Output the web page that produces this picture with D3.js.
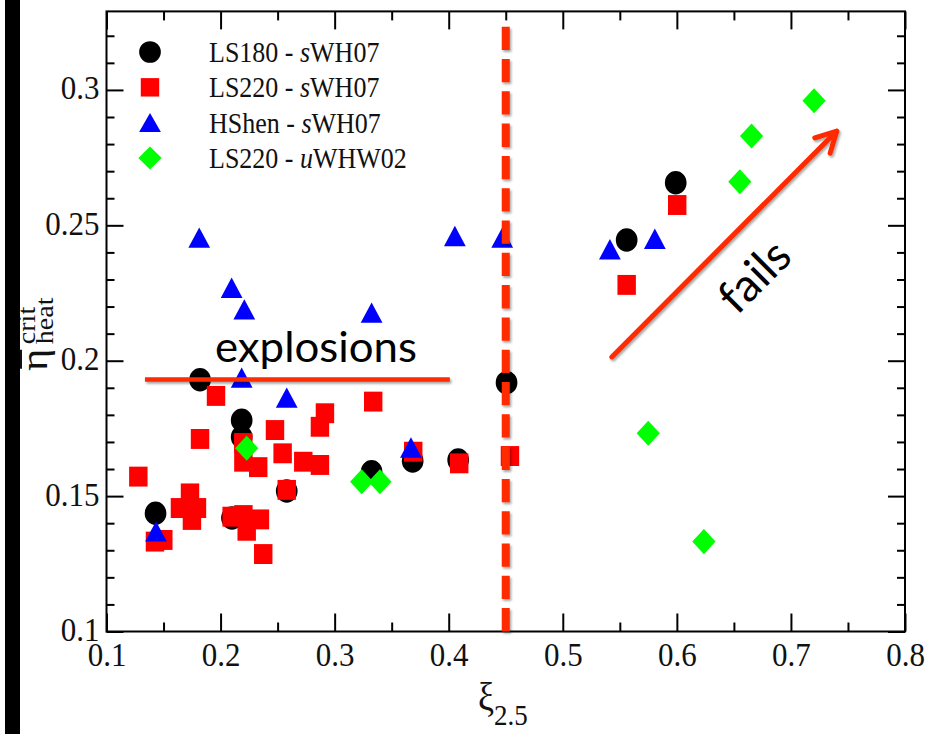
<!DOCTYPE html>
<html>
<head>
<meta charset="utf-8">
<script src="https://cdn.jsdelivr.net/npm/d3@7"></script>
<style>
  body { margin: 0; background: #fff; }
  svg { display: block; }
</style>
</head>
<body>
<svg id="chart" width="942" height="734"></svg>
<script>
// values: [xi_2.5, eta_heat^crit]
const ls180s = [[0.143,0.1437],[0.182,0.193],[0.2185,0.178],[0.2185,0.1718],[0.21,0.1419],[0.258,0.1519],
  [0.3324,0.159],[0.3684,0.163],[0.4083,0.1633],[0.4507,0.1919],[0.556,0.2446],[0.599,0.2657]];
const ls220s = [[0.1279,0.1572],[0.1425,0.1332],[0.1498,0.1338],[0.1644,0.1456],[0.1732,0.151],[0.1793,0.1456],
  [0.1749,0.1412],[0.182,0.1711],[0.196,0.187],[0.2097,0.1424],[0.22,0.143],[0.2229,0.1372],[0.2345,0.1414],
  [0.2374,0.1286],[0.2199,0.1696],[0.22,0.1627],[0.233,0.1607],[0.2477,0.1744],[0.2544,0.1658],[0.258,0.1523],
  [0.2725,0.1627],[0.2871,0.1615],[0.2871,0.1756],[0.2915,0.1806],[0.3338,0.1849],[0.3689,0.1664],
  [0.4092,0.1621],[0.4537,0.1648],[0.556,0.228],[0.6003,0.2575]];
const hshens = [[0.1434,0.1357],[0.1813,0.2442],[0.2097,0.2257],[0.2208,0.2177],[0.2185,0.1925],[0.258,0.1851],
  [0.3324,0.2165],[0.3669,0.1667],[0.4054,0.2448],[0.4469,0.2442],[0.5413,0.2399],[0.5807,0.2438]];
const ls220u = [[0.2229,0.1677],[0.3237,0.1553],[0.3397,0.1553],[0.5749,0.1732],[0.6237,0.1332],
  [0.6552,0.2661],[0.6655,0.283],[0.7203,0.296]];

const seriesNames = ["LS180 - ", "LS220 - ", "HShen - ", "LS220 - "];
const seriesModel = ["s", "s", "s", "u"];
const seriesTail = ["WH07", "WH07", "WH07", "WHW02"];

const xTicks = [0.1, 0.2, 0.3, 0.4, 0.5, 0.6, 0.7, 0.8];
const xMinor = [0.15, 0.25, 0.35, 0.45, 0.55, 0.65, 0.75];
const yTicks = [0.1, 0.15, 0.2, 0.25, 0.3];
const yMinor = [0.11, 0.12, 0.13, 0.14, 0.16, 0.17, 0.18, 0.19, 0.21, 0.22, 0.23, 0.24, 0.26, 0.27, 0.28, 0.29, 0.31, 0.32];

// annotations in data units
const threshold = 0.45;
const explosionLine = [[0.1337, 0.1931], [0.401, 0.1931]];
const failsArrow = [[0.543, 0.2014], [0.7402, 0.2848]];

const serif = "'Liberation Serif', 'Times New Roman', serif";
const sans = "Lato, 'Open Sans', sans-serif";
const annotRed = "#ff2a00";
const stretch = 1.12;

const svg = d3.select("#chart");
const L = 106.5, R = 905, T = 11.4, B = 631.5;

const x = d3.scaleLinear().domain([0.1, 0.8]).range([L, R]);
const y = d3.scaleLinear().domain([0.1, 0.329]).range([B, T]);

const defs = svg.append("defs");
defs.append("filter").attr("id", "shadow").attr("x", "-10%").attr("y", "-10%").attr("width", "130%").attr("height", "130%")
  .append("feDropShadow").attr("dx", 1.5).attr("dy", 2).attr("stdDeviation", 1.3)
  .attr("flood-color", "#000").attr("flood-opacity", 0.35);

// axes, ticks pointing inward
function styleAxis(g) {
  g.select(".domain").remove();
  g.selectAll(".tick line").attr("stroke", "#000").attr("stroke-width", 2);
}

svg.append("g").attr("transform", `translate(0,${B})`)
  .call(d3.axisBottom(x).tickValues(xTicks).tickSize(-18).tickPadding(0).tickFormat(d3.format(".1f")))
  .call(styleAxis)
  .call(g => g.selectAll("text").attr("y", 31).attr("dy", 0)
    .attr("transform", `scale(1,${stretch})`)
    .attr("font-family", serif).attr("font-size", 31).attr("fill", "#111"));
svg.append("g").attr("transform", `translate(0,${B})`)
  .call(d3.axisBottom(x).tickValues(xMinor).tickSize(-9).tickFormat(""))
  .call(styleAxis);
svg.append("g").attr("transform", `translate(0,${T})`)
  .call(d3.axisTop(x).tickValues(xTicks).tickSize(-18).tickFormat(""))
  .call(styleAxis);
svg.append("g").attr("transform", `translate(0,${T})`)
  .call(d3.axisTop(x).tickValues(xMinor).tickSize(-9).tickFormat(""))
  .call(styleAxis);

svg.append("g").attr("transform", `translate(${L},0)`)
  .call(d3.axisLeft(y).tickValues(yTicks).tickSize(-17).tickPadding(7).tickFormat(d => d3.format("")(+d.toFixed(2))))
  .call(styleAxis)
  .call(g => g.selectAll("text").attr("dy", "0.26em").attr("transform", `scale(1,${stretch})`)
    .attr("font-family", serif).attr("font-size", 31).attr("fill", "#111"));
svg.append("g").attr("transform", `translate(${L},0)`)
  .call(d3.axisLeft(y).tickValues(yMinor).tickSize(-8).tickFormat(""))
  .call(styleAxis);
svg.append("g").attr("transform", `translate(${R},0)`)
  .call(d3.axisRight(y).tickValues(yTicks).tickSize(-17).tickFormat(""))
  .call(styleAxis);
svg.append("g").attr("transform", `translate(${R},0)`)
  .call(d3.axisRight(y).tickValues(yMinor).tickSize(-8).tickFormat(""))
  .call(styleAxis);

svg.append("rect").attr("x", L).attr("y", T).attr("width", R - L).attr("height", B - T)
  .attr("fill", "none").attr("stroke", "#000").attr("stroke-width", 2);

// markers
const series = [
  { data: ls180s, color: "#000", sym: d3.symbolCircle, size: 370, rot: 0 },
  { data: ls220s, color: "#ff0000", sym: d3.symbolSquare, size: 340, rot: 0 },
  { data: hshens, color: "#0000ff", sym: d3.symbolTriangle, size: 205, rot: 0 },
  { data: ls220u, color: "#00ff00", sym: d3.symbolSquare, size: 270, rot: 45 }
];

series.forEach(s => {
  svg.append("g").selectAll("path").data(s.data).join("path")
    .attr("d", d3.symbol().type(s.sym).size(s.size))
    .attr("transform", d => `translate(${x(d[0])},${y(d[1])}) scale(1,1.08) rotate(${s.rot})`)
    .attr("fill", s.color);
});

// legend
const legendY = d3.scaleLinear().domain([0, 3]).range([52, 158]);
const leg = svg.append("g");
series.forEach((s, i) => {
  leg.append("path")
    .attr("d", d3.symbol().type(s.sym).size(s.size))
    .attr("transform", `translate(150,${legendY(i) + (s.sym === d3.symbolTriangle ? 3 : 0)}) rotate(${s.rot})`)
    .attr("fill", s.color);
  const t = leg.append("text")
    .attr("transform", `translate(209,${legendY(i) + 10}) scale(1,${stretch})`)
    .attr("font-family", serif).attr("font-size", 26).attr("fill", "#111");
  t.append("tspan").text(seriesNames[i]);
  t.append("tspan").attr("font-style", "italic").text(seriesModel[i]);
  t.append("tspan").text(seriesTail[i]);
});

// x-axis title
const xt = svg.append("text").attr("transform", `translate(478,710) scale(1,${stretch})`)
  .attr("font-family", serif).attr("fill", "#111");
xt.append("tspan").attr("font-size", 36).text("ξ");
xt.append("tspan").attr("font-size", 27).attr("dy", 13).text("2.5");

// y-axis title
const yt = svg.append("g").attr("transform", `translate(47,371) rotate(-90) scale(${stretch},1)`)
  .attr("font-family", serif).attr("fill", "#111");
yt.append("text").attr("font-size", 38).text("η");
yt.append("line").attr("x1", 2).attr("x2", 19).attr("y1", -26).attr("y2", -26)
  .attr("stroke", "#111").attr("stroke-width", 2);
yt.append("text").attr("x", 24).attr("y", 6).attr("font-size", 25).text("heat");
yt.append("text").attr("x", 24).attr("y", -12).attr("font-size", 25).text("crit");

// annotations
const ann = svg.append("g").attr("filter", "url(#shadow)");
ann.append("line")
  .attr("x1", x(threshold)).attr("x2", x(threshold))
  .attr("y1", 26.7).attr("y2", B + 2)
  .attr("stroke", annotRed).attr("stroke-width", 8).attr("stroke-dasharray", "23.3 9");

ann.append("line")
  .attr("x1", x(explosionLine[0][0])).attr("y1", y(explosionLine[0][1]))
  .attr("x2", x(explosionLine[1][0])).attr("y2", y(explosionLine[1][1]))
  .attr("stroke", annotRed).attr("stroke-width", 4.5);

const a0 = [x(failsArrow[0][0]), y(failsArrow[0][1])];
const a1 = [x(failsArrow[1][0]), y(failsArrow[1][1])];
const ang = Math.atan2(a1[1] - a0[1], a1[0] - a0[0]);
const headLen = 23, headAng = 0.49;
const arm = s => [a1[0] - headLen * Math.cos(ang + s * headAng), a1[1] - headLen * Math.sin(ang + s * headAng)];
ann.append("path")
  .attr("d", d3.line()([a0, a1]) + "M" + arm(1) + "L" + a1 + "L" + arm(-1))
  .attr("fill", "none").attr("stroke", annotRed).attr("stroke-width", 5)
  .attr("stroke-linecap", "round").attr("stroke-linejoin", "round");

svg.append("text")
  .attr("x", x(0.1951)).attr("y", y(0.1995))
  .attr("font-family", sans).attr("font-size", 42)
  .attr("textLength", 202).attr("lengthAdjust", "spacingAndGlyphs")
  .attr("fill", "#000").text("explosions");

svg.append("text")
  .attr("transform", `translate(${x(0.6527)},${y(0.2165)}) rotate(-45)`)
  .attr("font-family", sans).attr("font-size", 46)
  .attr("fill", "#000").text("fails");

// black strip at the left edge
svg.append("rect").attr("x", 5).attr("y", 0).attr("width", 15).attr("height", 734).attr("fill", "#000");
</script>
</body>
</html>
